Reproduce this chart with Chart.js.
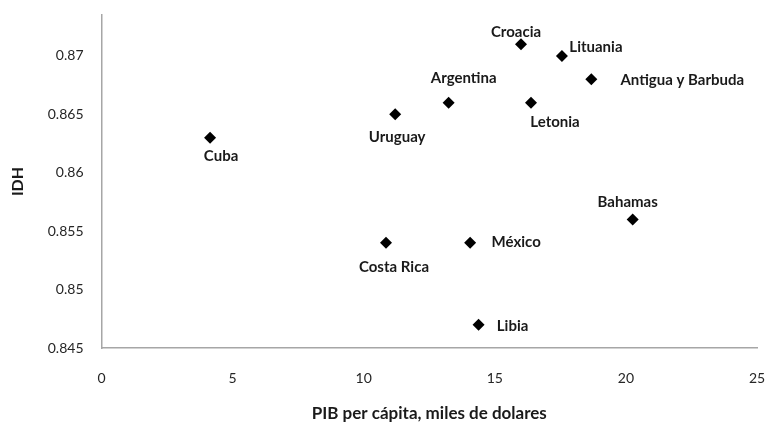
<!DOCTYPE html>
<html>
<head>
<meta charset="utf-8">
<script src="https://cdn.jsdelivr.net/npm/chart.js@4/dist/chart.umd.min.js"></script>
<style>
html,body{margin:0;padding:0;background:#fff;}
#wrap{width:766px;height:423px;position:relative;}
</style>
</head>
<body>
<div id="wrap"><canvas id="c" width="766" height="423"></canvas></div>
<script>
const countries = ["Cuba","Uruguay","Argentina","Croacia","Lituania","Antigua y Barbuda","Letonia","Bahamas","Costa Rica","México","Libia"];
const pib = [4.14, 11.2, 13.24, 16.0, 17.56, 18.68, 16.38, 20.26, 10.85, 14.06, 14.38];
const idh = [0.863, 0.865, 0.866, 0.871, 0.870, 0.868, 0.866, 0.856, 0.854, 0.854, 0.847];
const xTicks = [0, 5, 10, 15, 20, 25];
const yTicks = [0.845, 0.85, 0.855, 0.86, 0.865, 0.87];

// label offsets (pixels) relative to each marker, in order of countries
const labelOffsets = [[11,18],[2,23],[15,-24],[-5,-12],[34,-9],[91,1],[24,20],[-5,-17],[8,24],[46,-1],[34,2]];

const labelPlugin = {
  id: 'pointLabels',
  afterDatasetsDraw(chart) {
    const ctx = chart.ctx;
    const meta = chart.getDatasetMeta(0);
    ctx.save();
    ctx.font = 'bold 15px Lato, "Open Sans", sans-serif';
    ctx.fillStyle = '#1a1a1a';
    ctx.textAlign = 'center';
    ctx.textBaseline = 'middle';
    meta.data.forEach((pt, i) => {
      const o = labelOffsets[i];
      ctx.fillText(countries[i], pt.x + o[0], pt.y + o[1]);
    });
    ctx.restore();
  }
};

new Chart(document.getElementById('c'), {
  type: 'scatter',
  data: {
    datasets: [{
      data: pib.map((v, i) => ({x: v, y: idh[i]})),
      pointStyle: 'rectRot',
      pointRadius: 6,
      pointHoverRadius: 6,
      backgroundColor: '#000',
      borderColor: '#000',
      borderWidth: 0
    }]
  },
  options: {
    responsive: false,
    animation: false,
    events: [],
    layout: {padding: {left: 0, right: 9, top: 15, bottom: 0}},
    plugins: {legend: {display: false}, tooltip: {enabled: false}},
    scales: {
      x: {
        type: 'linear',
        min: xTicks[0],
        max: xTicks[xTicks.length - 1],
        afterBuildTicks: (s) => { s.ticks = xTicks.map(v => ({value: v})); },
        afterFit: (s) => { s.height = 75; s.paddingLeft = 0; s.paddingRight = 0; },
        grid: {color: 'rgba(0,0,0,0)', drawTicks: false},
        border: {display: true, color: '#a6a6a6', width: 1.5},
        ticks: {padding: 22, color: '#262626', font: {family: 'Lato, sans-serif', size: 14}},
        title: {display: true, text: 'PIB per cápita, miles de dolares', color: '#1a1a1a',
                font: {family: 'Lato, sans-serif', size: 17, weight: 'bold'}, padding: {top: 0, bottom: -1}}
      },
      y: {
        type: 'linear',
        min: 0.845,
        max: 0.8735,
        afterBuildTicks: (s) => { s.ticks = yTicks.map(v => ({value: v})); },
        afterFit: (s) => { s.width = 101.5; s.paddingTop = 0; s.paddingBottom = 0; },
        grid: {color: 'rgba(0,0,0,0)', drawTicks: false},
        border: {display: true, color: '#a6a6a6', width: 1.5},
        ticks: {padding: 18, color: '#262626', font: {family: 'Lato, sans-serif', size: 14},
                callback: (v) => String(+v.toFixed(3))},
        title: {display: true, text: 'IDH', color: '#1a1a1a',
                font: {family: 'Lato, sans-serif', size: 16, weight: 'bold'}, padding: {top: 8, bottom: 0}}
      }
    }
  },
  plugins: [labelPlugin]
});
</script>
</body>
</html>
